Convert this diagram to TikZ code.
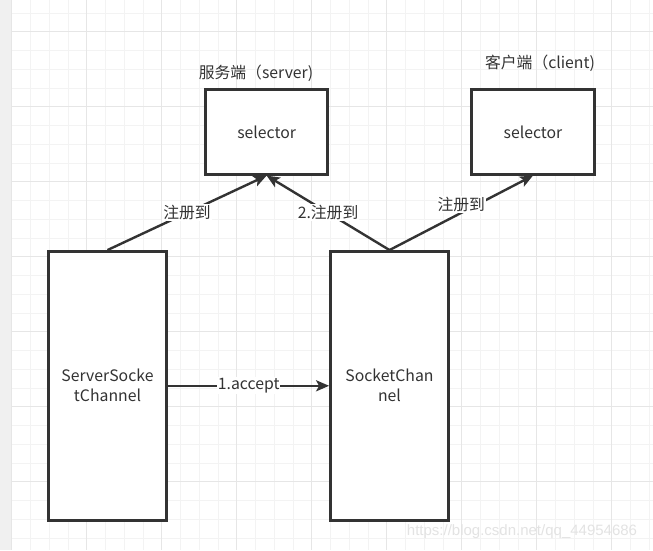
\documentclass[tikz,border=0pt]{standalone}
\usepackage{fontspec}
\setmainfont{Noto Sans CJK SC}
\newfontfamily\wmfont{Liberation Sans}
\usetikzlibrary{arrows.meta}
\definecolor{ink}{HTML}{333333}
\definecolor{gridminor}{HTML}{F3F3F3}
\definecolor{gridmajor}{HTML}{E6E6E6}
\definecolor{strip}{HTML}{F0F0F0}
\tikzset{
  box/.style={draw=ink, line width=2.8pt, fill=white, text=ink, align=center, inner sep=0pt,
    font=\fontsize{15.8}{20}\selectfont},
  conn/.style={draw=ink, line width=2.4pt, -{Stealth[length=13pt,width=11pt,inset=3pt]}},
  lbl/.style={fill=white, text=ink, inner sep=1pt, font=\fontsize{15.8}{18}\selectfont},
  title/.style={text=ink, inner sep=0pt, font=\fontsize{15.8}{18}\selectfont},
}
\begin{document}
\begin{tikzpicture}[x=1pt, y=-1pt]
\useasboundingbox (0,0) rectangle (653,550);
\fill[white] (0,0) rectangle (653,550);
\fill[strip] (0,0) rectangle (11.7,550);
% grid
\foreach \i in {0,...,34} {
  \draw[gridminor, line width=0.8pt] ({11.7+18.75*\i},0) -- ({11.7+18.75*\i},550);
}
\foreach \i in {0,...,29} {
  \draw[gridminor, line width=0.8pt] (11.7,{13+18.75*\i}) -- (653,{13+18.75*\i});
}
\foreach \i in {0,...,8} {
  \draw[gridmajor, line width=0.8pt] ({11.7+75*\i},0) -- ({11.7+75*\i},550);
}
\foreach \i in {0,...,7} {
  \draw[gridmajor, line width=0.8pt] (11.7,{31.7+75*\i}) -- (653,{31.7+75*\i});
}
% nodes
\node[box, minimum width=122.3pt, minimum height=84.4pt] (ssel) at (266.6,132) {selector};
\node[box, minimum width=123pt, minimum height=84.4pt] (csel) at (533,132) {selector};
\node[box, minimum width=118.6pt, minimum height=268.7pt] (ssc) at (107.5,385.8) {ServerSocke\\tChannel};
\node[box, minimum width=118pt, minimum height=268.7pt] (sc) at (389.5,385.8) {SocketChan\\nel};
\node[title] (stitle) at (256,73) {服务端（server)};
\node[title] (ctitle) at (540,63) {客户端（client)};
% connectors
\draw[conn] (ssc.north) -- node[lbl] (l1) {注册到} (ssel.south);
\draw[conn] (sc.north) -- node[lbl] (l2) {2.注册到} (ssel.south);
\draw[conn] (sc.north) -- node[lbl, yshift=8pt] (l3) {注册到} (csel.south);
\draw[conn] (ssc.east) -- node[lbl] (l4) {1.accept} (sc.west);
% watermark
\node[text=gray!22, font=\wmfont\fontsize{15}{18}\selectfont, inner sep=0pt] (wm) at (522,532) {https://blog.csdn.net/qq\_44954686};
\end{tikzpicture}
\end{document}
